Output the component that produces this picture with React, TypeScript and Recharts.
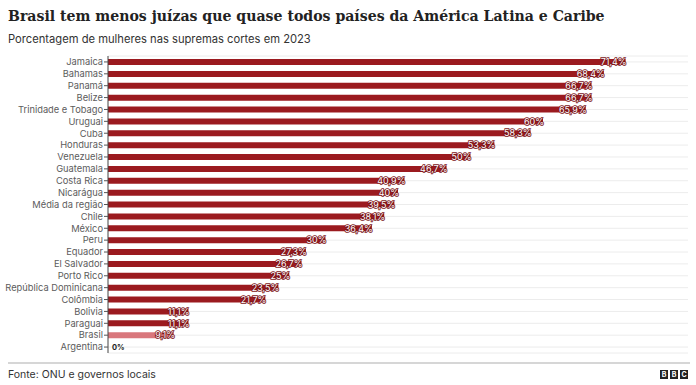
// Mulheres nas supremas cortes — BarChart horizontal, estilo BBC
import { BarChart, Bar, XAxis, YAxis, CartesianGrid, Cell, LabelList } from 'recharts';

const countries = [
  'Jamaica', 'Bahamas', 'Panamá', 'Belize', 'Trinidade e Tobago', 'Uruguai', 'Cuba',
  'Honduras', 'Venezuela', 'Guatemala', 'Costa Rica', 'Nicarágua', 'Média da região',
  'Chile', 'México', 'Peru', 'Equador', 'El Salvador', 'Porto Rico',
  'República Dominicana', 'Colômbia', 'Bolivia', 'Paraguai', 'Brasil', 'Argentina',
];
const shares = [
  71.4, 68.4, 66.7, 66.7, 65.9, 60, 58.3,
  53.3, 50, 46.7, 40.9, 40, 39.5,
  38.1, 36.4, 30, 27.3, 26.7, 25,
  23.5, 21.7, 11.1, 11.1, 9.1, 0,
];
const highlight = 'Brasil';

const data = countries.map((name, i) => ({ name, value: shares[i] }));

const fmt = (v: number) => String(v).replace('.', ',') + '%';

const RED = '#9b1a1f';
const PINK = '#d9777c';

function ValueLabel(props: any) {
  const { x, y, width, height, value } = props;
  if (!value) return null;
  return (
    <text x={x + width + 1} y={y + height / 2} dy={3.2} textAnchor="end" fontSize={9}
      fill="#fff" stroke="#7a1418" strokeWidth={1.6} paintOrder="stroke"
      fontFamily="Inter, sans-serif">
      {fmt(value)}
    </text>
  );
}

// tick sem quebra de linha; o "0%" da Argentina sai daqui porque a barra nula não tem rótulo
function CountryTick(props: any) {
  const { x, y, payload } = props;
  const v = shares[countries.indexOf(payload.value)];
  return (
    <g>
      <text x={x + 1} y={y} dy={3.3} textAnchor="end" fontSize={9.3} fill="#5c5c5c"
        fontFamily="Inter, sans-serif">{payload.value}</text>
      {v === 0 && (
        <text x={x + 10} y={y} dy={3} fontSize={7.5} fontWeight={700} fill="#222"
          fontFamily="Inter, sans-serif">{fmt(v)}</text>
      )}
    </g>
  );
}

export default function App() {
  return (
    <div style={{ position: 'absolute', left: 0, top: 0, width: 696, height: 385, background: '#fff', fontFamily: 'Inter, sans-serif' }}>
      <div style={{ position: 'absolute', left: 8, top: 8, fontFamily: '"DejaVu Serif", serif', fontWeight: 700, fontSize: 14.1, color: '#222', whiteSpace: 'nowrap' }}>
        Brasil tem menos juízas que quase todos países da América Latina e Caribe
      </div>
      <div style={{ position: 'absolute', left: 8, top: 32, fontSize: 11.2, color: '#333', whiteSpace: 'nowrap' }}>
        Porcentagem de mulheres nas supremas cortes em 2023
      </div>
      <div style={{ position: 'absolute', left: 0, top: 0 }}>
        <BarChart width={696} height={385} data={data} layout="vertical"
          margin={{ top: 56, right: 8, bottom: 32, left: 8 }} barCategoryGap={3}>
          <CartesianGrid horizontal vertical={false} stroke="#ececec" />
          <XAxis type="number" domain={[0, 80]} hide />
          <YAxis type="category" dataKey="name" width={100} interval={0}
            tick={<CountryTick />}
            tickSize={4} tickMargin={2}
            tickLine={{ stroke: '#555' }} axisLine={{ stroke: '#444' }} />
          <Bar dataKey="value" isAnimationActive={false}>
            {data.map((d) => (
              <Cell key={d.name} fill={d.name === highlight ? PINK : RED} />
            ))}
            <LabelList dataKey="value" content={<ValueLabel />} />
          </Bar>
        </BarChart>
      </div>
      <div style={{ position: 'absolute', left: 8, top: 362, width: 682, height: 2, background: '#d6d6d6' }} />
      <div style={{ position: 'absolute', left: 8, top: 368, fontSize: 10.5, color: '#333' }}>
        Fonte: ONU e governos locais
      </div>
      <div style={{ position: 'absolute', left: 660, top: 370, display: 'flex', gap: 2 }}>
        {['B', 'B', 'C'].map((c, i) => (
          <div key={i} style={{ width: 8, height: 9, background: '#222', color: '#fff', fontSize: 7, fontWeight: 700, lineHeight: '9px', textAlign: 'center' }}>{c}</div>
        ))}
      </div>
    </div>
  );
}
